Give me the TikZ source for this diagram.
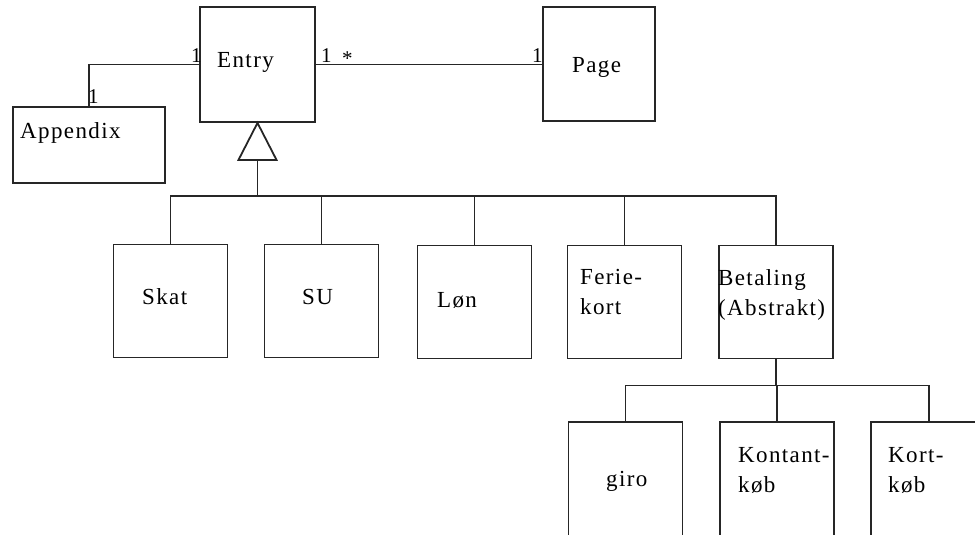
\documentclass[tikz,border=0pt]{standalone}
\usepackage{fontspec}
\setmainfont{Liberation Serif}[LetterSpace=6]
\begin{document}
\begin{tikzpicture}[x=1pt,y=-1pt,
  box/.style={draw=black!85, line width=1.8pt, minimum width=114pt, minimum height=113pt, inner sep=0pt},
  conn/.style={draw=black!85, line width=1.8pt},
  lbl/.style={anchor=base west, inner sep=0pt, font=\fontsize{23}{30}\selectfont, align=left},
  mult/.style={anchor=base west, inner sep=0pt, font=\fontsize{21}{24}\selectfont}]
\useasboundingbox (0,0) rectangle (975,535);
\clip (0,0) rectangle (975,535);
% boxes
\node[box, minimum width=115pt, minimum height=115pt] (Entry) at (257.5,64.5) {};
\node[box, minimum width=112pt, minimum height=114pt] (Page) at (599,64) {};
\node[box, minimum width=152pt, minimum height=76pt] (Appendix) at (89,145) {};
\node[box] (Skat) at (170.5,301) {};
\node[box] (SU) at (321.5,301) {};
\node[box] (Lon) at (474.5,302) {};
\node[box] (Ferie) at (624.5,302) {};
\node[box] (Betaling) at (776,302) {};
\node[box, minimum height=140pt] (giro) at (625.5,492) {};
\node[box, minimum height=140pt] (Kontant) at (777,492) {};
\node[box, minimum width=116pt, minimum height=140pt] (Kort) at (929,492) {};
% texts (base anchor = baseline of last line)
\node[lbl] (tEntry) at (217,67) {Entry};
\node[lbl] (tPage) at (572,73) {Page};
\node[lbl] (tAppendix) at (20,138) {Appendix};
\node[lbl] (tSkat) at (142,304) {Skat};
\node[lbl] (tSU) at (302,304) {SU};
\node[lbl] (tLon) at (437,307) {Løn};
\node[lbl] (tFerie) at (580,314) {Ferie-\\kort};
\node[lbl] (tBetaling) at (718,315) {Betaling\\(Abstrakt)};
\node[lbl] (tgiro) at (606,486) {giro};
\node[lbl] (tKontant) at (738,492) {Kontant-\\køb};
\node[lbl] (tKort) at (888,492) {Kort-\\køb};
% multiplicities
\node[mult] (m1) at (191,63) {1};
\node[mult] (m2) at (88,103) {1};
\node[mult] (m3) at (321,63) {1};
\node[mult] (m4) at (342,66) {*};
\node[mult] (m5) at (532,63) {1};
% associations
\draw[conn] (Entry.east) -- (Page.west |- Entry.east);
\draw[conn] (Entry.west) -| (Appendix.north);
% generalization Entry
\coordinate (triL) at ([shift={(-19,37)}]Entry.south);
\coordinate (triR) at ([shift={(19,37)}]Entry.south);
\coordinate (triB) at ([shift={(0,37)}]Entry.south);
\coordinate (bus1) at ([shift={(0,73)}]Entry.south);
\draw[conn] (Entry.south) -- (triL) -- (triR) -- cycle;
\draw[conn] (triB) -- (bus1);
\draw[conn] (Skat.north) -- (Skat.north |- bus1) -- (Betaling.north |- bus1) -- (Betaling.north);
\draw[conn] (SU.north) -- (SU.north |- bus1);
\draw[conn] (Lon.north) -- (Lon.north |- bus1);
\draw[conn] (Ferie.north) -- (Ferie.north |- bus1);
% Betaling subtypes
\coordinate (bus2) at ([shift={(0,26)}]Betaling.south);
\draw[conn] (Betaling.south) -- (bus2);
\draw[conn] (giro.north) -- (giro.north |- bus2) -- (Kort.north |- bus2) -- (Kort.north);
\draw[conn] (Kontant.north) -- (Kontant.north |- bus2);
\end{tikzpicture}
\end{document}
